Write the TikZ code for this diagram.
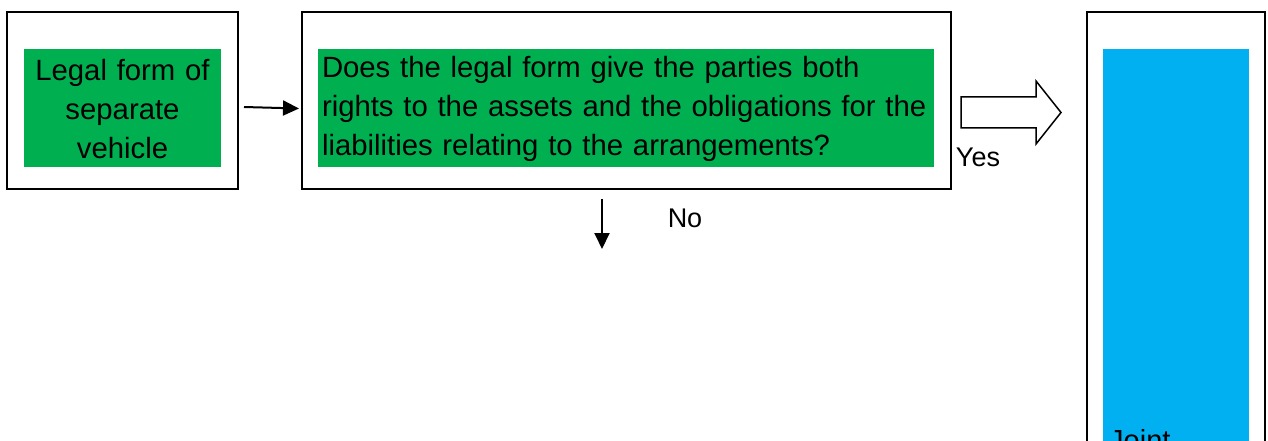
\documentclass[tikz,border=0pt]{standalone}
\usepackage{fontspec}
\setmainfont{Liberation Sans}
\usetikzlibrary{arrows.meta}
\definecolor{boxgreen}{RGB}{0,176,80}
\definecolor{boxblue}{RGB}{0,176,240}
\newcommand{\topstrut}{\rule{0pt}{23pt}}
\begin{document}
\begin{tikzpicture}[x=1pt,y=-1pt,
  frame/.style={draw=black,line width=2pt,fill=white,inner sep=0pt},
  greenbox/.style={fill=boxgreen,inner xsep=4pt,inner ysep=2pt,minimum height=118pt,
    font=\fontsize{29.3}{38.7}\selectfont},
  lbl/.style={font=\fontsize{27}{32}\selectfont,inner sep=0pt},
  conn/.style={line width=2pt,-{Triangle[length=16pt,width=15pt]}}]
\useasboundingbox (0,0) rectangle (1268,441);
\clip (0,0) rectangle (1268,441);
% outer frames
\node[frame,minimum width=231pt,minimum height=177pt] (f1) at (122.5,100.5) {};
\node[frame,minimum width=649pt,minimum height=177pt] (f2) at (626.5,100.5) {};
\node[frame,minimum width=178pt,minimum height=448pt] (f3) at (1176,236) {};
% coloured panels
\node[greenbox,text width=189pt,align=center] (g1) at (122.5,108) {\topstrut Legal form of\\separate\\vehicle};
\node[greenbox,text width=608pt,align=left] (g2) at (626,108)
  {\topstrut Does the legal form give the parties both\\rights to the assets and the obligations for the\\liabilities relating to the arrangements?};
\node[fill=boxblue,inner sep=0pt,minimum width=146pt,minimum height=411pt] (b3) at (1176,254.5) {};
\node[lbl,anchor=base west,font=\fontsize{29}{35}\selectfont] (joint) at (1109,450) {Joint};
% connectors
\coordinate (a1s) at (244,107);
\coordinate (a1e) at (299,108.5);
\draw[conn] (a1s) -- (a1e);
\coordinate (a2s) at (602,199);
\coordinate (a2e) at (602,249);
\draw[conn] (a2s) -- (a2e);
\node[lbl] (no) at (685,218) {No};
% block arrow towards the right column
\draw[line width=1.5pt,fill=white,line join=miter]
  (961,97) -- (1036,97) -- (1036,81) -- (1061,112.5) -- (1036,144) -- (1036,128) -- (961,128) -- cycle;
\node[lbl] (yes) at (978,157) {Yes};
\end{tikzpicture}
\end{document}
